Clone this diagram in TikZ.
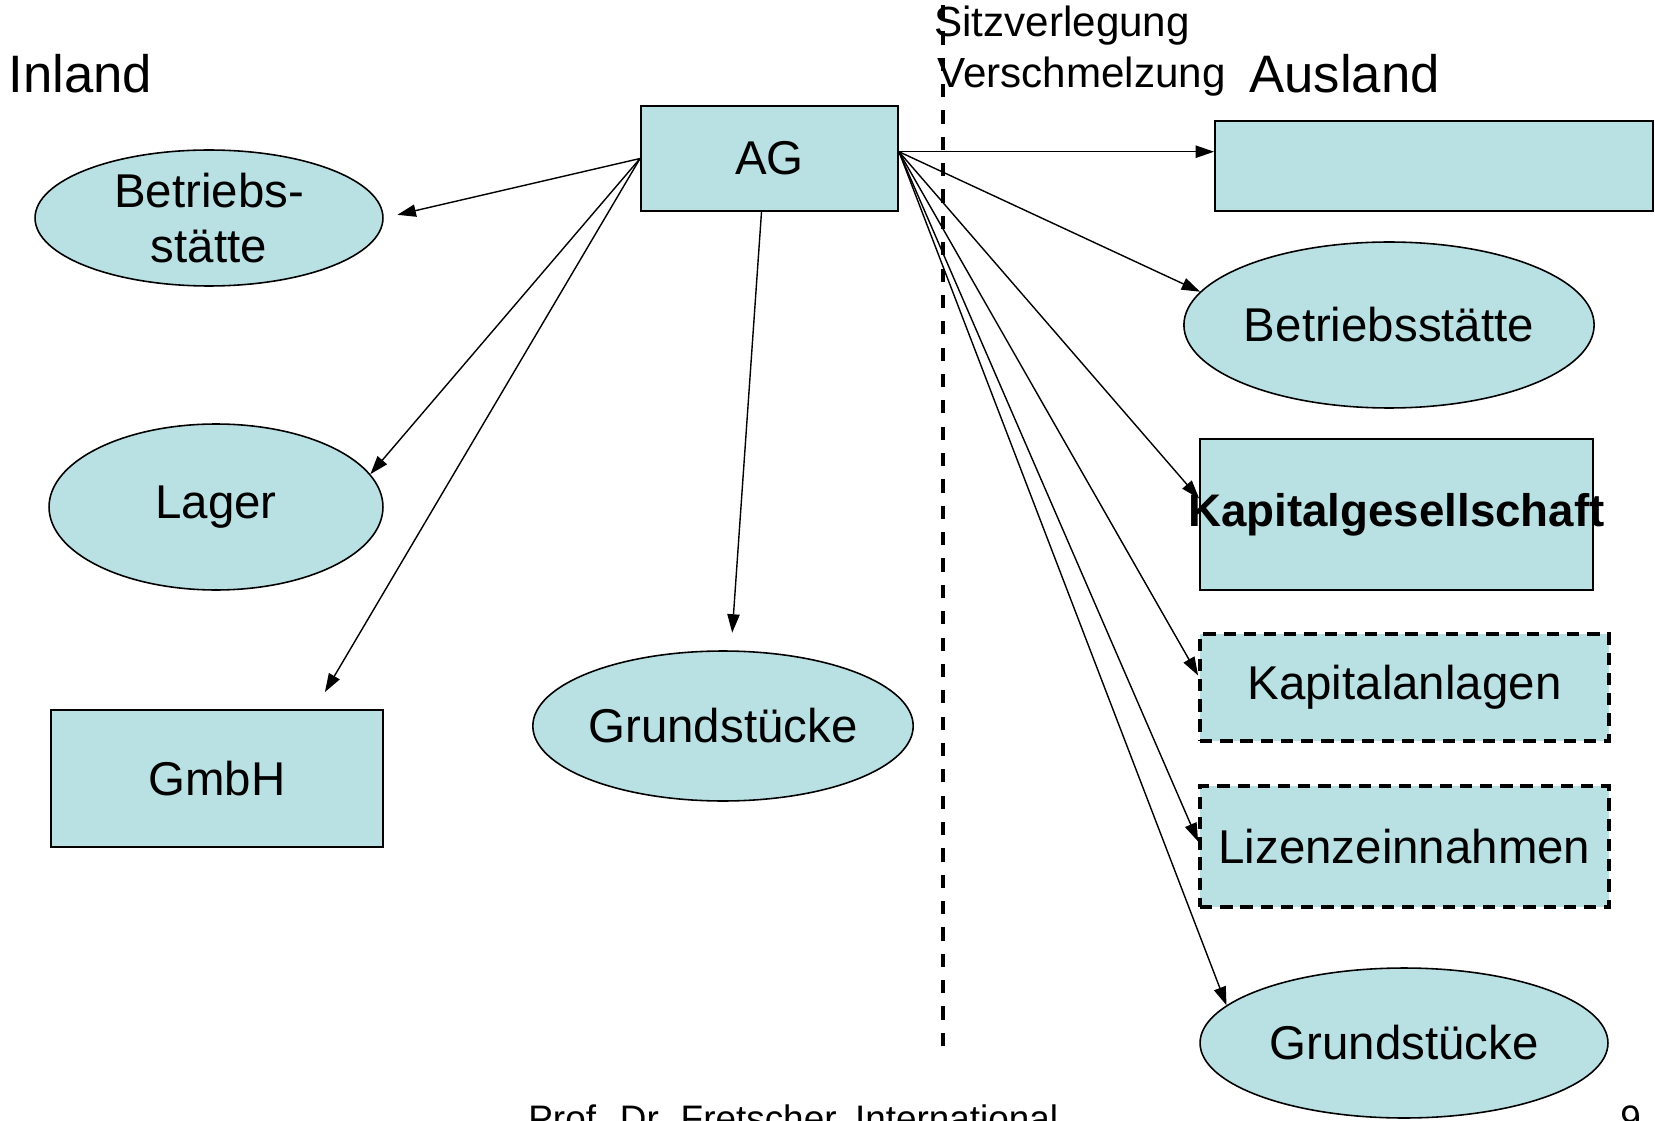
\documentclass[tikz,border=0pt]{standalone}
\usepackage{fontspec}
\setmainfont{Liberation Sans}
\usetikzlibrary{shapes.geometric,arrows.meta,calc}
\definecolor{feld}{RGB}{185,224,227}

\begin{document}
\begin{tikzpicture}[x=0.02cm,y=-0.02cm,
	kasten/.style={rectangle,draw=black,line width=1.1pt,fill=feld,inner sep=0pt,font=\fontsize{27}{31}\selectfont},
	oval/.style={ellipse,draw=black,line width=0.9pt,fill=feld,inner sep=0pt,align=center,font=\fontsize{27}{31}\selectfont},
	strich/.style={kasten,line width=2.2pt,dash pattern=on 7pt off 4.5pt},
	pfeil/.style={line width=0.8pt,-{Triangle[length=10.5pt,width=7pt]}},
	titel/.style={anchor=base west,inner sep=0pt,font=\fontsize{30}{36}\selectfont},
	notiz/.style={anchor=base west,inner sep=0pt,font=\fontsize{24}{28}\selectfont},
	fuss/.style={anchor=base west,inner sep=0pt,font=\fontsize{21}{25}\selectfont},
	grenze/.style={line width=2pt,dash pattern=on 7.5pt off 7.5pt}]
	\useasboundingbox (0,0) rectangle (1655,1121);

	\node[titel] (inland) at (8,93) {Inland};
	\node[titel] (ausland) at (1249,93) {Ausland};
	\node[notiz] (sitz) at (934,37) {Sitzverlegung};
	\node[notiz] (versch) at (937,88) {Verschmelzung};

	\coordinate (grenzeoben) at (943,5);
	\coordinate (grenzeunten) at (943,1057);
	\draw[grenze] (grenzeoben) -- (grenzeunten);

	\node[kasten,minimum width=5.14cm,minimum height=2.1cm] (ag) at (769.5,158.5) {AG};
	\node[kasten,minimum width=8.76cm,minimum height=1.8cm] (aus) at (1434,166) {};

	\node[oval,minimum width=6.96cm,minimum height=2.72cm] (bsi) at (209,218) {Betriebs-\\stätte};
	\node[oval,minimum width=6.68cm,minimum height=3.32cm] (lager) at (216,507) {Lager};
	\node[kasten,minimum width=6.64cm,minimum height=2.74cm] (gmbh) at (217,778.5) {GmbH};
	\node[oval,minimum width=7.56cm,minimum height=3cm] (gsi) at (723,726) {Grundstücke};

	\node[oval,minimum width=8.16cm,minimum height=3.32cm] (bsa) at (1389,325) {Betriebsstätte};
	\node[kasten,minimum width=7.86cm,minimum height=3.02cm,
		label={[font=\fontsize{26}{30}\selectfont\bfseries]center:Kapitalgesellschaft}] (kg) at (1396.5,514.5) {};
	\node[strich,minimum width=8.18cm,minimum height=2.14cm] (ka) at (1404.5,687.5) {Kapitalanlagen};
	\node[strich,minimum width=8.18cm,minimum height=2.42cm] (lz) at (1404.5,846.5) {Lizenzeinnahmen};
	\node[oval,minimum width=8.16cm,minimum height=3cm] (gsa) at (1404,1043) {Grundstücke};

	\draw[pfeil,shorten >=8pt] (ag.west) -- (bsi.east);
	\draw[pfeil] (ag.west) -- (lager.12);
	\draw[pfeil] (ag.west) -- ($(gmbh.north east)+(-59,-17)$);
	\draw[pfeil,shorten >=10pt] ($(ag.south)+(-8,0)$) -- ($(gsi.north)+(8,0)$);

	\draw[pfeil] (ag.3) -- (ag.3 -| aus.west);
	\draw[pfeil] (ag.3) -- (bsa.170);
	\draw[pfeil] (ag.3) -- ($(kg.west)+(0,-16)$);
	\draw[pfeil] (ag.3) -- ($(ka.west)+(0,-12)$);
	\draw[pfeil] (ag.3) -- ($(lz.west)+(0,-5)$);
	\draw[pfeil] (ag.3) -- (gsa.168);

	\node[fuss] (autor) at (528,1131) {Prof. Dr. Fretscher, International};
	\node[fuss] (seite) at (1620,1131) {9};
\end{tikzpicture}
\end{document}
